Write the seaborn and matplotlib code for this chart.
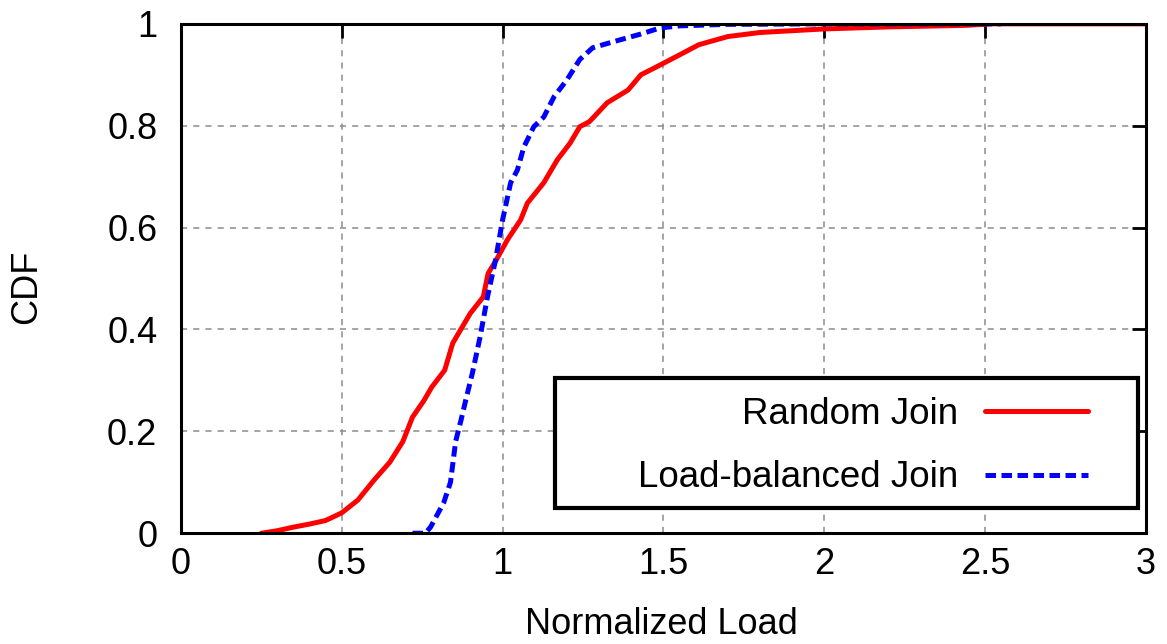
import matplotlib
matplotlib.use("Agg")
import matplotlib.pyplot as plt
import seaborn as sns
import pandas as pd
from matplotlib.patches import Rectangle

# ---- data ----
random_x = [0.25, 0.30, 0.35, 0.40, 0.45, 0.50, 0.55, 0.60, 0.65, 0.69, 0.72, 0.755,
            0.78, 0.82, 0.845, 0.87, 0.90, 0.94, 0.955, 0.98, 1.015, 1.056, 1.077,
            1.128, 1.17, 1.21, 1.24, 1.27, 1.325, 1.39, 1.43, 1.48, 1.55, 1.61, 1.70,
            1.80, 2.0, 2.2, 2.44, 2.52, 3.0]
random_y = [0.0, 0.005, 0.012, 0.018, 0.025, 0.04, 0.065, 0.104, 0.14, 0.18, 0.228, 0.26,
            0.287, 0.32, 0.373, 0.40, 0.432, 0.464, 0.51, 0.536, 0.576, 0.615, 0.648,
            0.688, 0.733, 0.766, 0.798, 0.808, 0.845, 0.87, 0.90, 0.916, 0.939, 0.959, 0.975,
            0.983, 0.99, 0.994, 0.997, 1.0, 1.0]

lb_x = [0.72, 0.76, 0.776, 0.80, 0.817, 0.838, 0.844, 0.854, 0.87, 0.885, 0.906, 0.93,
        0.953, 0.978, 1.0, 1.025, 1.046, 1.066, 1.097, 1.128, 1.16, 1.20, 1.24, 1.28,
        1.345, 1.43, 1.49, 1.55, 1.70, 2.0, 2.55]
lb_y = [0.0, 0.0, 0.012, 0.04, 0.06, 0.10, 0.13, 0.18, 0.22, 0.26, 0.314, 0.385,
        0.464, 0.536, 0.615, 0.688, 0.713, 0.758, 0.798, 0.817, 0.857, 0.89, 0.93, 0.953,
        0.965, 0.98, 0.992, 0.996, 0.999, 1.0, 1.0]

series_names = ["Random Join", "Load-balanced Join"]
x_ticks = [0, 0.5, 1, 1.5, 2, 2.5, 3]
x_tick_labels = ["0", "0.5", "1", "1.5", "2", "2.5", "3"]
y_ticks = [0, 0.2, 0.4, 0.6, 0.8, 1.0]
y_tick_labels = ["0", "0.2", "0.4", "0.6", "0.8", "1"]

# ---- style ----
sns.set_theme(style="white")
plt.rcParams["font.family"] = ["Liberation Sans", "DejaVu Sans"]
plt.rcParams["text.color"] = "black"
plt.rcParams["axes.labelcolor"] = "black"
plt.rcParams["xtick.color"] = "black"
plt.rcParams["ytick.color"] = "black"
FS = 26

df_r = pd.DataFrame({"x": random_x, "y": random_y})
df_l = pd.DataFrame({"x": lb_x, "y": lb_y})

fig = plt.figure(figsize=(11.67, 6.44), dpi=100)
ax = fig.add_axes([0.155, 0.172, 0.827, 0.791])

sns.lineplot(data=df_r, x="x", y="y", ax=ax, color="#ff0000", lw=3.6,
             sort=False, estimator=None, label=series_names[0], zorder=3)
sns.lineplot(data=df_l, x="x", y="y", ax=ax, color="#0000ff", lw=3.6,
             sort=False, estimator=None, label=series_names[1], zorder=3,
             dashes=False)
ax.lines[1].set_linestyle((0, (2.1, 1.1)))

ax.set_xlim(0, 3)
ax.set_ylim(0, 1)
ax.set_xticks(x_ticks)
ax.set_xticklabels(x_tick_labels)
ax.set_yticks(y_ticks)
ax.set_yticklabels(y_tick_labels)

ax.grid(True, linestyle=(0, (4, 4)), color="#8c8c8c", lw=1.1, zorder=0)
ax.set_axisbelow(True)

for s in ax.spines.values():
    s.set_linewidth(2.2)
    s.set_color("black")
    s.set_zorder(6)

ax.tick_params(axis="both", which="major", direction="in", length=10, width=2,
               top=True, right=True, labelsize=FS, colors="black")
ax.tick_params(axis="x", pad=10)
ax.tick_params(axis="y", pad=17)

ax.set_xlabel("Normalized Load", fontsize=FS, color="black")
ax.set_ylabel("CDF", fontsize=FS, color="black")
ax.xaxis.set_label_coords(0.498, -0.18)
ax.yaxis.set_label_coords(-0.16, 0.483)
ax.xaxis.label.set_va("center")
ax.yaxis.label.set_va("center")

# legend box
rect = Rectangle((0.3876, 0.049), 0.9917 - 0.3876, 0.3045 - 0.049,
                 transform=ax.transAxes, facecolor="white", edgecolor="black",
                 lw=3.0, zorder=4.5)
ax.add_patch(rect)
leg = ax.legend(loc="upper right", bbox_to_anchor=(0.94, 0.268), frameon=False,
                markerfirst=False, fontsize=26.5, handlelength=2.8, handletextpad=0.72,
                labelspacing=0.78, borderpad=0, borderaxespad=0)
for t in leg.get_texts():
    t.set_color("black")
leg.set_zorder(7)

fig.savefig("out.png", dpi=100)
